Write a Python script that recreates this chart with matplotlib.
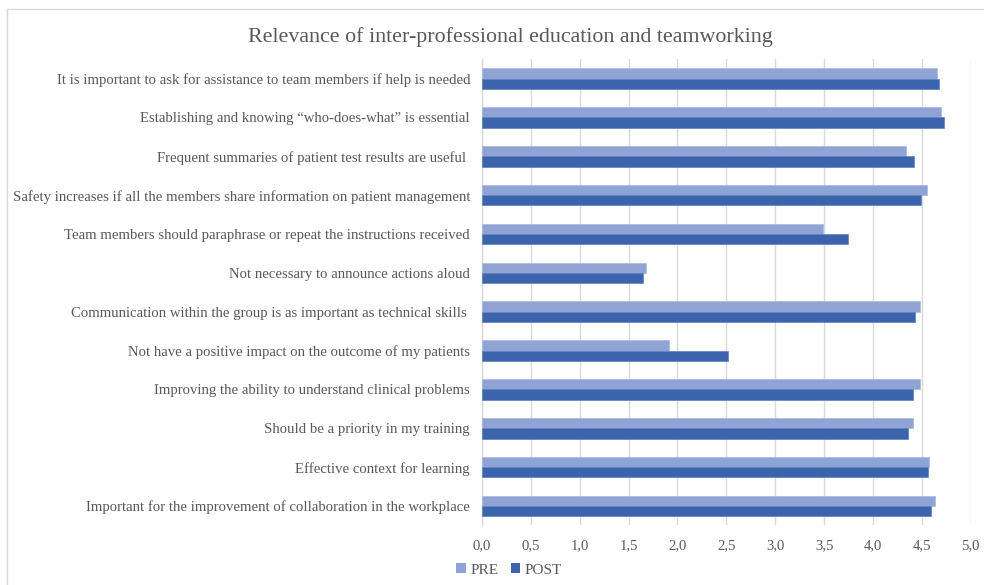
import matplotlib
matplotlib.use("Agg")
import matplotlib.pyplot as plt
from matplotlib.lines import Line2D
from matplotlib.patches import Patch
import numpy as np

plt.rcParams['font.family'] = ['Liberation Serif', 'DejaVu Serif']

title = "Relevance of inter-professional education and teamworking"

categories = [
    "It is important to ask for assistance to team members if help is needed",
    "Establishing and knowing \u201cwho-does-what\u201d is essential",
    "Frequent summaries of patient test results are useful ",
    "Safety increases if all the members share information on patient management",
    "Team members should paraphrase or repeat the instructions received",
    "Not necessary to announce actions aloud",
    "Communication within the group is as important as technical skills ",
    "Not have a positive impact on the outcome of my patients",
    "Improving the ability to understand clinical problems",
    "Should be a priority in my training",
    "Effective context for learning",
    "Important for the improvement of collaboration in the workplace",
]

pre = [4.66, 4.70, 4.34, 4.55, 3.49, 1.68, 4.48, 1.91, 4.48, 4.41, 4.57, 4.63]
post = [4.68, 4.73, 4.42, 4.49, 3.74, 1.65, 4.43, 2.52, 4.41, 4.36, 4.56, 4.59]

series_names = ["PRE", "POST"]
xticks = [0.0, 0.5, 1.0, 1.5, 2.0, 2.5, 3.0, 3.5, 4.0, 4.5, 5.0]
xtick_labels = ["0,0", "0,5", "1,0", "1,5", "2,0", "2,5", "3,0", "3,5", "4,0", "4,5", "5,0"]

c_pre = "#8FA4D4"
c_post = "#3C64AD"
text_c = "#595959"
grid_c = "#D9D9D9"

W, H = 984, 585
fig = plt.figure(figsize=(W / 100, H / 100), dpi=100)

# outer chart frame
fig.add_artist(Line2D([7 / W, 1.0], [1 - 9 / H, 1 - 9 / H], color=grid_c, lw=1.0))
fig.add_artist(Line2D([7 / W, 7 / W], [0.0, 1 - 9 / H], color=grid_c, lw=1.0))

ax = fig.add_axes([482 / W, 1 - 525.4 / H, (970.7 - 482) / W, (525.4 - 59.2) / H])

n = len(categories)
y = np.arange(n)
bh = 0.265
ax.barh(y - bh / 2, pre, height=bh, color=c_pre, edgecolor="#A9BAE0", linewidth=0.5, zorder=3)
ax.barh(y + bh / 2, post, height=bh, color=c_post, edgecolor="#5F80C0", linewidth=0.5, zorder=3)

ax.set_ylim(n - 0.5, -0.5)
ax.set_xlim(0, 5.0)
ax.set_yticks(y)
ax.set_yticklabels(categories, fontsize=10.6, color=text_c)
ax.set_xticks(xticks)
ax.set_xticklabels(xtick_labels, fontsize=10.6, color=text_c)
ax.tick_params(axis='y', length=0, pad=8.6)
ax.tick_params(axis='x', length=0, pad=10)

ax.grid(axis='x', color=grid_c, lw=1.0, zorder=0)
ax.set_axisbelow(True)
for s in ["top", "right", "bottom"]:
    ax.spines[s].set_visible(False)
ax.spines["left"].set_color(grid_c)
ax.spines["left"].set_linewidth(1.0)

fig.text(510 / W, 1 - 37 / H, title, ha="center", va="center", fontsize=15.8, color=text_c)

handles = [Patch(facecolor=c_pre), Patch(facecolor=c_post)]
fig.legend(handles, series_names, loc="center", bbox_to_anchor=(509 / W, 1 - 570 / H),
           ncol=2, frameon=False, fontsize=11, labelcolor=text_c,
           handlelength=0.6, handleheight=0.6, handletextpad=0.3, columnspacing=0.8)

fig.savefig("out.png", dpi=100)
